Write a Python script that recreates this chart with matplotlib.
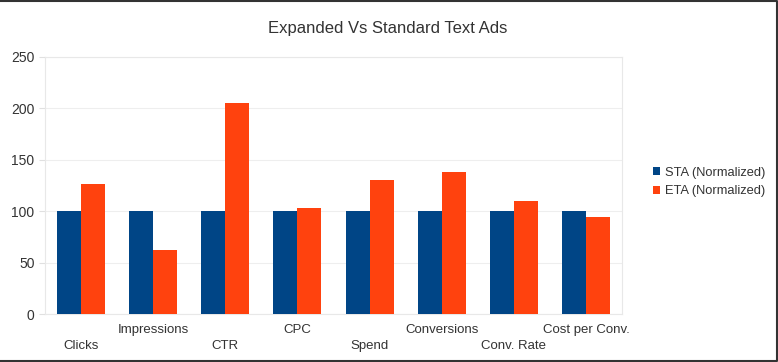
import matplotlib.pyplot as plt
import matplotlib.lines as mlines
import numpy as np

plt.rcParams['font.family'] = ['Liberation Sans', 'DejaVu Sans']

categories = ['Clicks', 'Impressions', 'CTR', 'CPC', 'Spend', 'Conversions', 'Conv. Rate', 'Cost per Conv.']
sta = [100, 100, 100, 100, 100, 100, 100, 100]
eta = [126, 62, 205, 103, 130, 138, 110, 94]

blue = '#004586'
orange = '#ff420e'
txt = '#333333'

fig = plt.figure(figsize=(7.78, 3.62), dpi=100)
ax = fig.add_axes([45/778, 48/362, 577/778, 257/362])

x = np.arange(len(categories))
w = 1/3
ax.bar(x - w/2, sta, w, color=blue, label='STA (Normalized)', zorder=3)
ax.bar(x + w/2, eta, w, color=orange, label='ETA (Normalized)', zorder=3)

ax.set_xlim(-0.5, len(categories) - 0.5)
ax.set_ylim(0, 250)
ax.set_yticks(range(0, 251, 50))
ax.yaxis.grid(True, color='#eeeeee', linewidth=0.8, zorder=0)
for s in ax.spines.values():
    s.set_color('#e8e8e8')
    s.set_linewidth(0.8)
ax.tick_params(axis='y', colors='#e0e0e0', labelcolor=txt, labelsize=10, length=4, width=0.8)
ax.tick_params(axis='x', length=0, labelsize=9.5, labelcolor=txt)

ax.set_xticks(x)
ax.set_xticklabels(categories)
for i, tk in enumerate(ax.xaxis.get_major_ticks()):
    tk.set_pad(19 if i % 2 == 0 else 7)

fig.text(388/778, 1 - 28/362, 'Expanded Vs Standard Text Ads', ha='center', va='center',
         fontsize=12, color=txt)

fig.legend(loc='center left', bbox_to_anchor=(641/778, 180/362), frameon=False,
           handlelength=0.6, handleheight=0.6, handletextpad=0.35, labelspacing=0.5,
           fontsize=9.3, labelcolor=txt)

# window frame: top, right and bottom edges only
fx = [0, 776.5/778, 776.5/778, 0]
fy = [1 - 0.5/362, 1 - 0.5/362, 1.5/362, 1.5/362]
fig.add_artist(mlines.Line2D(fx, fy, transform=fig.transFigure, color='#333333', linewidth=1.5))

fig.savefig('out.png', dpi=100)
